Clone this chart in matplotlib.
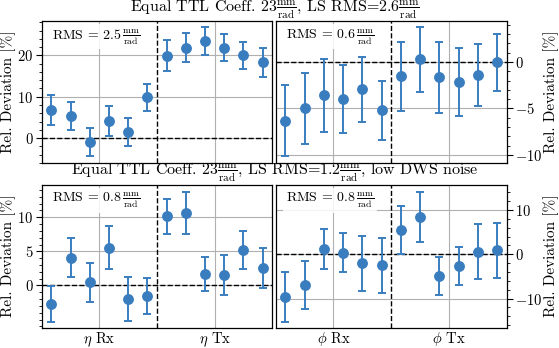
import matplotlib

matplotlib.use("Agg")
import matplotlib.pyplot as plt
import numpy as np
from matplotlib.ticker import AutoMinorLocator

BLUE = "#3a7dbf"
GRID = "#b0b0b0"

plt.rcParams.update(
    {
        "font.family": ["cmr10", "DejaVu Serif"],
        "mathtext.fontset": "cm",
        "axes.formatter.use_mathtext": True,
        "axes.unicode_minus": True,
        "font.size": 10,
        "axes.linewidth": 0.9,
    }
)

# x positions: 6 Rx points then 6 Tx points per panel
x_idx = np.arange(12)
group_ticks = [2.5, 8.5]

# top row: equal TTL coeff, LS RMS = 2.6
eta_ls26 = [6.7, 5.4, -1.0, 4.1, 1.5, 9.9, 19.9, 21.9, 23.5, 21.9, 20.0, 18.3]
eta_ls26_err = [3.65, 3.45, 3.45, 3.6, 3.3, 3.3, 3.75, 3.55, 3.35, 3.35, 3.35, 3.45]
phi_ls26 = [-6.3, -5.0, -3.58, -4.0, -2.94, -5.2, -1.54, 0.29, -1.65, -2.15, -1.43, -0.04]
phi_ls26_err = [3.78, 3.78, 3.93, 3.64, 3.5, 3.17, 3.7, 3.48, 3.79, 3.63, 3.35, 3.1]

# bottom row: LS RMS = 1.2, low DWS noise
eta_dws = [-2.68, 4.05, 0.44, 5.56, -2.0, -1.5, 10.15, 10.6, 1.66, 1.56, 5.2, 2.54]
eta_dws_err = [2.65, 2.87, 2.9, 3.18, 3.28, 2.66, 2.57, 3.05, 2.47, 2.9, 2.83, 2.88]
phi_dws = [-9.66, -7.0, 1.2, 0.38, -2.04, -2.5, 5.43, 8.4, -4.9, -2.57, 0.6, 0.9]
phi_dws_err = [5.56, 5.42, 4.48, 4.38, 6.25, 6.28, 5.45, 5.6, 4.4, 4.33, 6.23, 6.28]

rms_labels = ["2.5", "0.6", "0.8", "0.8"]
eta_groups = [r"$\eta$ Rx", r"$\eta$ Tx"]
phi_groups = [r"$\phi$ Rx", r"$\phi$ Tx"]

FRAC = r"$\frac{\mathrm{mm}}{\mathrm{rad}}$"

W, H = 559, 348
fig = plt.figure(figsize=(W / 100, H / 100), dpi=100)


def px_axes(x0, y0, x1, y1):
    return fig.add_axes([x0 / W, 1 - y1 / H, (x1 - x0) / W, (y1 - y0) / H])


def panel(ax, vals, errs, rms, ylim, yticks, right=False, xlabels=None):
    ax.set_axisbelow(True)
    ax.grid(True, color=GRID, linewidth=0.8)
    ax.axhline(0, color="k", linestyle="--", linewidth=1.0, zorder=2)
    ax.axvline(5.5, color="k", linestyle="--", linewidth=1.0, zorder=2)
    ax.errorbar(x_idx, vals, yerr=errs, fmt="o", color=BLUE, markersize=6.8,
                capsize=3.2, elinewidth=1.4, capthick=1.4, zorder=3)
    ax.set_xlim(-0.5, 11.5)
    ax.set_ylim(*ylim)
    ax.set_yticks(yticks)
    ax.yaxis.set_minor_locator(AutoMinorLocator(5))
    ax.set_xticks(group_ticks)
    ax.tick_params(axis="x", length=0, pad=2, labelsize=10.5)
    ax.tick_params(axis="y", which="major", length=4, direction="out", pad=2,
                   labelsize=10.5)
    ax.tick_params(axis="y", which="minor", length=2, direction="out")
    if xlabels is None:
        ax.set_xticklabels([])
    else:
        ax.set_xticklabels(xlabels)
    if right:
        ax.yaxis.tick_right()
        ax.yaxis.set_label_position("right")
    ax.set_ylabel("Rel. Deviation [%]", labelpad=1, fontsize=11)
    ax.text(0.045, 0.955, r"$\mathrm{RMS}\,=\,%s\,$" % rms + FRAC,
            transform=ax.transAxes, ha="left", va="top", fontsize=10,
            bbox=dict(facecolor="white", edgecolor="none", alpha=0.85, pad=2),
            zorder=4)


ax_tl = px_axes(41.7, 20.7, 272.3, 163.3)
ax_tr = px_axes(275.7, 20.7, 506.7, 163.3)
ax_bl = px_axes(41.7, 184.5, 272.3, 327.7)
ax_br = px_axes(275.7, 184.5, 506.7, 327.7)

panel(ax_tl, eta_ls26, eta_ls26_err, rms_labels[0], (-6.1, 28.4), [0, 10, 20])
panel(ax_tr, phi_ls26, phi_ls26_err, rms_labels[1], (-10.9, 4.45), [-10, -5, 0], right=True)
panel(ax_bl, eta_dws, eta_dws_err, rms_labels[2], (-6.2, 14.8), [0, 5, 10], xlabels=eta_groups)
panel(ax_br, phi_dws, phi_dws_err, rms_labels[3], (-16.6, 15.8), [-10, 0, 10], right=True,
      xlabels=phi_groups)

fig.text(275 / W, 1 - 10 / H, "Equal TTL Coeff. 23" + FRAC + ", LS RMS=2.6" + FRAC,
         ha="center", va="center", fontsize=11.5)
fig.text(275 / W, 1 - 173 / H,
         "Equal TTL Coeff. 23" + FRAC + ", LS RMS=1.2" + FRAC + ", low DWS noise",
         ha="center", va="center", fontsize=11.5)

fig.savefig("out.png", dpi=100)
